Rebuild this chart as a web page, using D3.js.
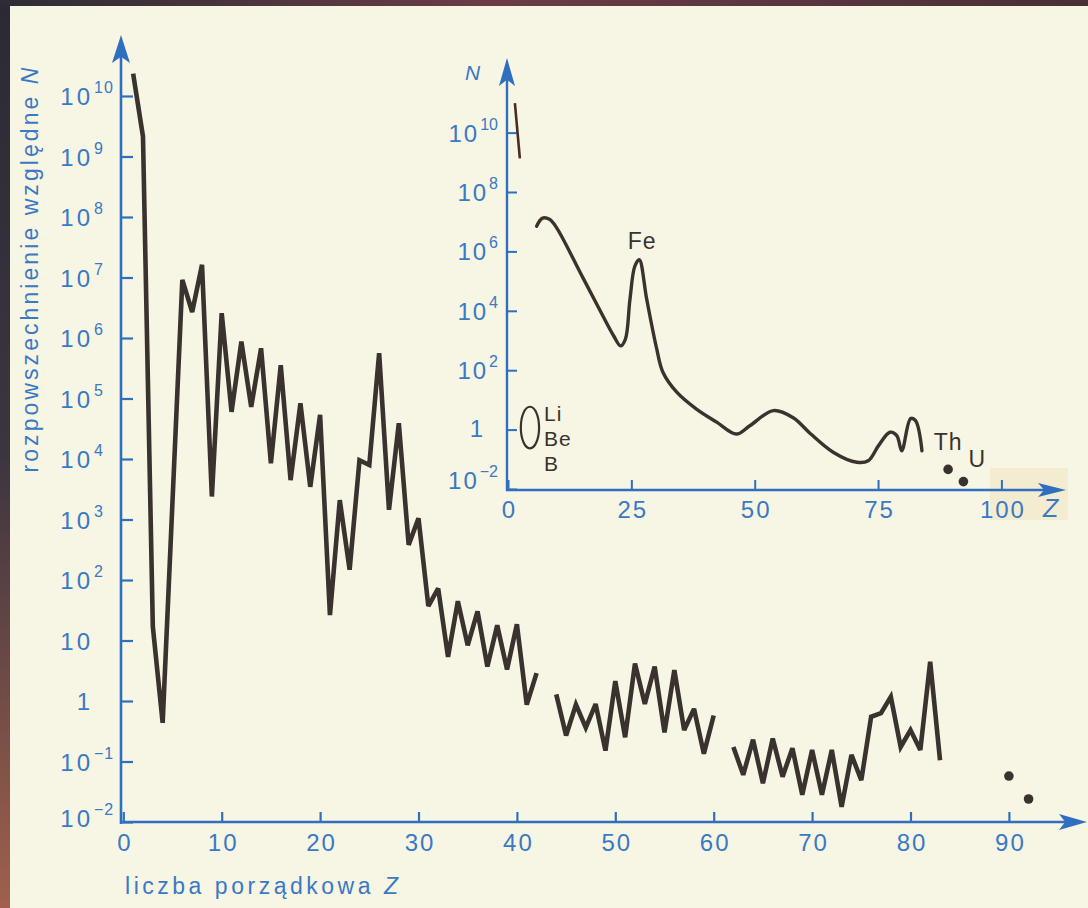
<!DOCTYPE html>
<html>
<head>
<meta charset="utf-8">
<script src="https://cdn.jsdelivr.net/npm/d3@7"></script>
<style>
  html, body { margin: 0; padding: 0; background: #2c2b35; }
  svg { display: block; }
</style>
</head>
<body>
<svg id="chart" width="1088" height="908"></svg>
<script>
// ---------- data ----------
// Main panel: relative abundance N of the elements (stored as log10 N) for Z = 1 … 83.
// null marks the elements without a stable isotope (Tc, Pm), where the line breaks.
const elementZ = [
  1, 2, 3, 4, 5, 6, 7, 8, 9, 10,
  11, 12, 13, 14, 15, 16, 17, 18, 19, 20,
  21, 22, 23, 24, 25, 26, 27, 28, 29, 30,
  31, 32, 33, 34, 35, 36, 37, 38, 39, 40,
  41, 42, 43, 44, 45, 46, 47, 48, 49, 50,
  51, 52, 53, 54, 55, 56, 57, 58, 59, 60,
  61, 62, 63, 64, 65, 66, 67, 68, 69, 70,
  71, 72, 73, 74, 75, 76, 77, 78, 79, 80,
  81, 82, 83
];
const log10Abundance = [
  10.37, 9.33, 1.23, -0.36, 3.3, 6.96, 6.43, 7.21, 3.38, 6.41,
  4.78, 5.94, 4.86, 5.83, 3.93, 5.55, 3.65, 4.92, 3.54, 4.73,
  1.42, 3.32, 2.17, 3.98, 3.90, 5.75, 3.16, 4.59, 2.58, 3.02,
  1.57, 1.86, 0.73, 1.65, 0.92, 1.48, 0.57, 1.25, 0.52, 1.27,
  -0.06, 0.46, null, 0.11, -0.57, -0.06, -0.44, -0.05, -0.82, 0.33,
  -0.60, 0.62, -0.05, 0.57, -0.52, 0.51, -0.48, -0.13, -0.87, -0.24,
  null, -0.76, -1.22, -0.64, -1.36, -0.62, -1.25, -0.78, -1.55, -0.81,
  -1.55, -0.81, -1.75, -0.89, -1.31, -0.26, -0.20, 0.07, -0.76, -0.48,
  -0.81, 0.65, -0.98
];
// Thorium and uranium, drawn as separate dots
const heavyZ = [90, 92];
const heavyLog10 = [-1.24, -1.62];

// Inset: smoothed trend of the same distribution
const trendZ = [5.8, 7.0, 8.4, 9.8, 15, 19, 21.4, 22.8, 23.8, 24.7, 25.7, 26.6, 28.1, 30.1, 31.4, 34.2, 38.2,
  42.3, 46.3, 49, 53.8, 57.8, 61.2, 65.9, 70.7, 73.0, 75.1, 77.4, 78.8, 79.8, 81.6, 82.6, 83.9];
const trendLog10 = [6.85, 7.12, 7.08, 6.81, 5.17, 3.9, 3.16, 2.82, 3.05, 4.36, 5.5, 5.72, 4.4, 2.75, 1.93, 1.26, 0.69,
  0.25, -0.15, 0.13, 0.64, 0.40, -0.12, -0.76, -1.10, -1.05, -0.54, -0.09, -0.2, -0.71, 0.37, 0.30, -0.71];
const lightZ = [1.4, 2.4];          // H–He stroke at the top of the inset
const lightLog10 = [10.99, 9.13];
const insetHeavyZ = [89.2, 92.3];
const insetHeavyLog10 = [-1.34, -1.75];
const insetHeavyNames = ["Th", "U"];
const liBeBZ = [2.6, 6.3];          // extent of the Li/Be/B loop
const liBeBLog10 = [-0.63, 0.77];
const liBeBNames = ["Li", "Be", "B"];

// ticks
const mainXTicks = [0, 10, 20, 30, 40, 50, 60, 70, 80, 90];
const mainYExponents = [-2, -1, 0, 1, 2, 3, 4, 5, 6, 7, 8, 9, 10];
const insetXTicks = [0, 25, 50, 75, 100];
const insetYExponents = [-2, 0, 2, 4, 6, 8, 10];

// ---------- styling ----------
const W = 1088, H = 908;
const INK = "#3a322e";
const BLUE = "#2f6fc0";
const BLUE_TEXT = "#3a79c4";
const PAPER = "#f7f5e3";
const FONT = "'Liberation Sans', Arial, sans-serif";
const NUM_SIZE = "24px";

const svg = d3.select("#chart");
const defs = svg.append("defs");

// backdrop: dark border around the page
const edgeGrad = defs.append("linearGradient").attr("id", "edge")
  .attr("x1", 0).attr("y1", 0).attr("x2", 0).attr("y2", 1);
edgeGrad.append("stop").attr("offset", "0%").attr("stop-color", "#2b2a34");
edgeGrad.append("stop").attr("offset", "50%").attr("stop-color", "#3c3540");
edgeGrad.append("stop").attr("offset", "100%").attr("stop-color", "#a0604c");
const topGrad = defs.append("linearGradient").attr("id", "topEdge")
  .attr("x1", 0).attr("y1", 0).attr("x2", 1).attr("y2", 0);
topGrad.append("stop").attr("offset", "0%").attr("stop-color", "#2d2c36");
topGrad.append("stop").attr("offset", "45%").attr("stop-color", "#6b3c46");
topGrad.append("stop").attr("offset", "100%").attr("stop-color", "#4a2f36");

svg.append("rect").attr("width", W).attr("height", H).attr("fill", "url(#edge)");
svg.append("rect").attr("width", W).attr("height", 7).attr("fill", "url(#topEdge)");
svg.append("rect").attr("x", 10).attr("y", 6).attr("width", W - 10).attr("height", H - 6).attr("fill", PAPER);
// faint paste-up patch behind the inset's axis end
svg.append("rect").attr("x", 990).attr("y", 468).attr("width", 78).attr("height", 52).attr("fill", "#f3ecd1");

function arrowHead(g, tipX, tipY, dir, len, half) {
  // dir: "up" or "right"
  let p;
  if (dir === "up") {
    p = `M${tipX},${tipY} L${tipX + half},${tipY + len} L${tipX},${tipY + len * 0.78} L${tipX - half},${tipY + len} Z`;
  } else {
    p = `M${tipX},${tipY} L${tipX - len},${tipY - half} L${tipX - len * 0.78},${tipY} L${tipX - len},${tipY + half} Z`;
  }
  g.append("path").attr("d", p).attr("fill", BLUE);
}

// =====================================================================
// Main panel
// =====================================================================
const x = d3.scaleLinear().domain([0, 90]).range([123.3, 1008.9]);
const y = d3.scaleLog().domain([1e-2, 1e10]).range([822, 96]);
const AXIS_X = 121, AXIS_Y = 822;

const main = svg.append("g");

// axes lines with arrows
main.append("line").attr("x1", AXIS_X).attr("x2", AXIS_X).attr("y1", AXIS_Y + 2).attr("y2", 50)
  .attr("stroke", BLUE).attr("stroke-width", 2.6);
arrowHead(main, AXIS_X, 35, "up", 28, 9);
main.append("line").attr("x1", AXIS_X - 1).attr("x2", 1070).attr("y1", AXIS_Y).attr("y2", AXIS_Y)
  .attr("stroke", BLUE).attr("stroke-width", 2.6);
arrowHead(main, 1087, AXIS_Y, "right", 28, 8);

// x ticks + labels
const gx = main.append("g").attr("transform", `translate(0,${AXIS_Y})`)
  .call(d3.axisBottom(x).tickValues(mainXTicks).tickSize(-10).tickPadding(12).tickFormat(d3.format("d")));
gx.select(".domain").remove();
gx.selectAll(".tick line").attr("stroke", BLUE).attr("stroke-width", 2.2);
gx.selectAll(".tick text").attr("fill", BLUE_TEXT).style("font-family", FONT).style("font-size", NUM_SIZE)
  .attr("letter-spacing", 2).attr("dx", 1);

// y ticks (pointing into the plot)
const gy = main.append("g").attr("transform", `translate(${AXIS_X},0)`)
  .call(d3.axisRight(y).tickValues(mainYExponents.map(e => Math.pow(10, e))).tickSize(12).tickFormat(""));
gy.select(".domain").remove();
gy.selectAll(".tick line").attr("stroke", BLUE).attr("stroke-width", 2.2);

// y tick labels as powers of ten
mainYExponents.forEach(e => {
  const ty = y(Math.pow(10, e));
  const base = e === 0 ? "1" : "10";
  const by = ty + (e === -2 ? 5 : 9);
  main.append("text").attr("x", 90).attr("y", by).attr("text-anchor", "end")
    .attr("fill", BLUE_TEXT).style("font-family", FONT).style("font-size", NUM_SIZE)
    .attr("letter-spacing", 3).attr("dx", 3).text(base);
  if (e !== 0 && e !== 1) {
    main.append("text").attr("x", 94).attr("y", by - 12)
      .attr("fill", BLUE_TEXT).style("font-family", FONT).style("font-size", "16px")
      .attr("letter-spacing", 1).text(e < 0 ? "\u2212" + (-e) : String(e));
  }
});

// axis titles
main.append("text")
  .attr("transform", "translate(38,270) rotate(-90)")
  .attr("text-anchor", "middle")
  .attr("textLength", 405).attr("lengthAdjust", "spacing")
  .attr("fill", BLUE_TEXT).style("font-family", FONT).style("font-size", "23px")
  .text("rozpowszechnienie względne ")
  .append("tspan").style("font-style", "italic").text("N");

main.append("text").attr("x", 125).attr("y", 894)
  .attr("textLength", 273).attr("lengthAdjust", "spacing")
  .attr("fill", BLUE_TEXT).style("font-family", FONT).style("font-size", "23px")
  .text("liczba porządkowa  ")
  .append("tspan").style("font-style", "italic").text("Z");

// abundance line
const mainPoints = elementZ.map((z, i) => ({ z, v: log10Abundance[i] }));
const mainLine = d3.line()
  .defined(d => d.v !== null)
  .x(d => x(d.z))
  .y(d => y(Math.pow(10, d.v)));
main.append("path").datum(mainPoints)
  .attr("d", mainLine)
  .attr("fill", "none").attr("stroke", INK).attr("stroke-width", 4.6)
  .attr("stroke-linejoin", "miter").attr("stroke-miterlimit", 3).attr("stroke-linecap", "butt");

main.selectAll("circle.heavy").data(heavyZ.map((z, i) => ({ z, v: heavyLog10[i] })))
  .enter().append("circle").attr("class", "heavy")
  .attr("cx", d => x(d.z)).attr("cy", d => y(Math.pow(10, d.v))).attr("r", 4.8).attr("fill", INK);

// =====================================================================
// Inset panel
// =====================================================================
const ix = d3.scaleLinear().domain([0, 100]).range([508, 1001.4]);
const iy = d3.scaleLog().domain([1e-2, 1e10]).range([489, 132.6]);
const I_AXIS_X = 507, I_AXIS_Y = 490;

const inset = svg.append("g");

inset.append("line").attr("x1", I_AXIS_X).attr("x2", I_AXIS_X).attr("y1", I_AXIS_Y + 1).attr("y2", 75)
  .attr("stroke", BLUE).attr("stroke-width", 2.4);
arrowHead(inset, I_AXIS_X, 58, "up", 28, 8);
inset.append("line").attr("x1", I_AXIS_X - 1).attr("x2", 1050).attr("y1", I_AXIS_Y).attr("y2", I_AXIS_Y)
  .attr("stroke", BLUE).attr("stroke-width", 2.4);
arrowHead(inset, 1066, I_AXIS_Y, "right", 28, 7);

const igx = inset.append("g").attr("transform", `translate(0,${I_AXIS_Y})`)
  .call(d3.axisBottom(ix).tickValues(insetXTicks).tickSize(-10).tickPadding(11).tickFormat(d3.format("d")));
igx.select(".domain").remove();
igx.selectAll(".tick line").attr("stroke", BLUE).attr("stroke-width", 2);
igx.selectAll(".tick text").attr("fill", BLUE_TEXT).style("font-family", FONT).style("font-size", NUM_SIZE)
  .attr("letter-spacing", 2).attr("dx", 1);

const igy = inset.append("g").attr("transform", `translate(${I_AXIS_X},0)`)
  .call(d3.axisRight(iy).tickValues(insetYExponents.map(e => Math.pow(10, e))).tickSize(10).tickFormat(""));
igy.select(".domain").remove();
igy.selectAll(".tick line").attr("stroke", BLUE).attr("stroke-width", 2);

insetYExponents.forEach(e => {
  const ty = iy(Math.pow(10, e));
  const by = ty + (e === -2 ? 0 : 9);
  if (e === 0) {
    inset.append("text").attr("x", 483).attr("y", by - 2).attr("text-anchor", "end")
      .attr("fill", BLUE_TEXT).style("font-family", FONT).style("font-size", NUM_SIZE).text("1");
    return;
  }
  const sup = inset.append("text").attr("x", 498).attr("y", by - 12).attr("text-anchor", "end")
    .attr("fill", BLUE_TEXT).style("font-family", FONT).style("font-size", "16px")
    .text(e < 0 ? "\u2212" + (-e) : String(e));
  const w = sup.node().getComputedTextLength();
  inset.append("text").attr("x", 498 - w - 3).attr("y", by).attr("text-anchor", "end")
    .attr("fill", BLUE_TEXT).style("font-family", FONT).style("font-size", NUM_SIZE)
    .attr("letter-spacing", 2).attr("dx", 2).text("10");
});

inset.append("text").attr("x", 465).attr("y", 80)
  .attr("fill", BLUE_TEXT).style("font-family", FONT).style("font-size", "21px").style("font-style", "italic")
  .text("N");
inset.append("text").attr("x", 1043).attr("y", 517)
  .attr("fill", BLUE_TEXT).style("font-family", FONT).style("font-size", "25px").style("font-style", "italic")
  .text("Z");

// H–He stroke
inset.append("path").datum(lightZ.map((z, i) => ({ z, v: lightLog10[i] })))
  .attr("d", d3.line().x(d => ix(d.z)).y(d => iy(Math.pow(10, d.v))))
  .attr("fill", "none").attr("stroke", "#4a2c26").attr("stroke-width", 2.6);

// smoothed trend
inset.append("path").datum(trendZ.map((z, i) => ({ z, v: trendLog10[i] })))
  .attr("d", d3.line().curve(d3.curveCatmullRom.alpha(0.5)).x(d => ix(d.z)).y(d => iy(Math.pow(10, d.v))))
  .attr("fill", "none").attr("stroke", INK).attr("stroke-width", 3.4).attr("stroke-linecap", "round");

// Li / Be / B loop
const lx0 = ix(liBeBZ[0]), lx1 = ix(liBeBZ[1]);
const ly0 = iy(Math.pow(10, liBeBLog10[0])), ly1 = iy(Math.pow(10, liBeBLog10[1]));
inset.append("ellipse")
  .attr("cx", (lx0 + lx1) / 2).attr("cy", (ly0 + ly1) / 2)
  .attr("rx", (lx1 - lx0) / 2).attr("ry", (ly0 - ly1) / 2)
  .attr("fill", "none").attr("stroke", INK).attr("stroke-width", 2.2);
liBeBNames.forEach((name, i) => {
  inset.append("text").attr("x", lx1 + 5).attr("y", ly1 + 14 + i * 25)
    .attr("fill", INK).style("font-family", FONT).style("font-size", "21px").attr("letter-spacing", 1)
    .text(name);
});

// Fe label over its peak
const feIndex = trendLog10.indexOf(d3.max(trendLog10.slice(4)));
inset.append("text").attr("x", ix(trendZ[feIndex]) + 3).attr("y", iy(Math.pow(10, trendLog10[feIndex])) - 11)
  .attr("text-anchor", "middle")
  .attr("fill", INK).style("font-family", FONT).style("font-size", "23px").attr("letter-spacing", 1)
  .text("Fe");

// Th and U
const insetHeavy = insetHeavyZ.map((z, i) => ({ z, v: insetHeavyLog10[i], name: insetHeavyNames[i] }));
inset.selectAll("circle.heavy").data(insetHeavy).enter().append("circle").attr("class", "heavy")
  .attr("cx", d => ix(d.z)).attr("cy", d => iy(Math.pow(10, d.v))).attr("r", 4.8).attr("fill", INK);
inset.selectAll("text.heavy").data(insetHeavy).enter().append("text").attr("class", "heavy")
  .attr("x", (d, i) => ix(d.z) + (i === 0 ? 0 : 14))
  .attr("y", (d, i) => iy(Math.pow(10, d.v)) - (i === 0 ? 19 : 15))
  .attr("text-anchor", "middle")
  .attr("fill", INK).style("font-family", FONT).style("font-size", "23px").attr("letter-spacing", 1)
  .text(d => d.name);
</script>
</body>
</html>
